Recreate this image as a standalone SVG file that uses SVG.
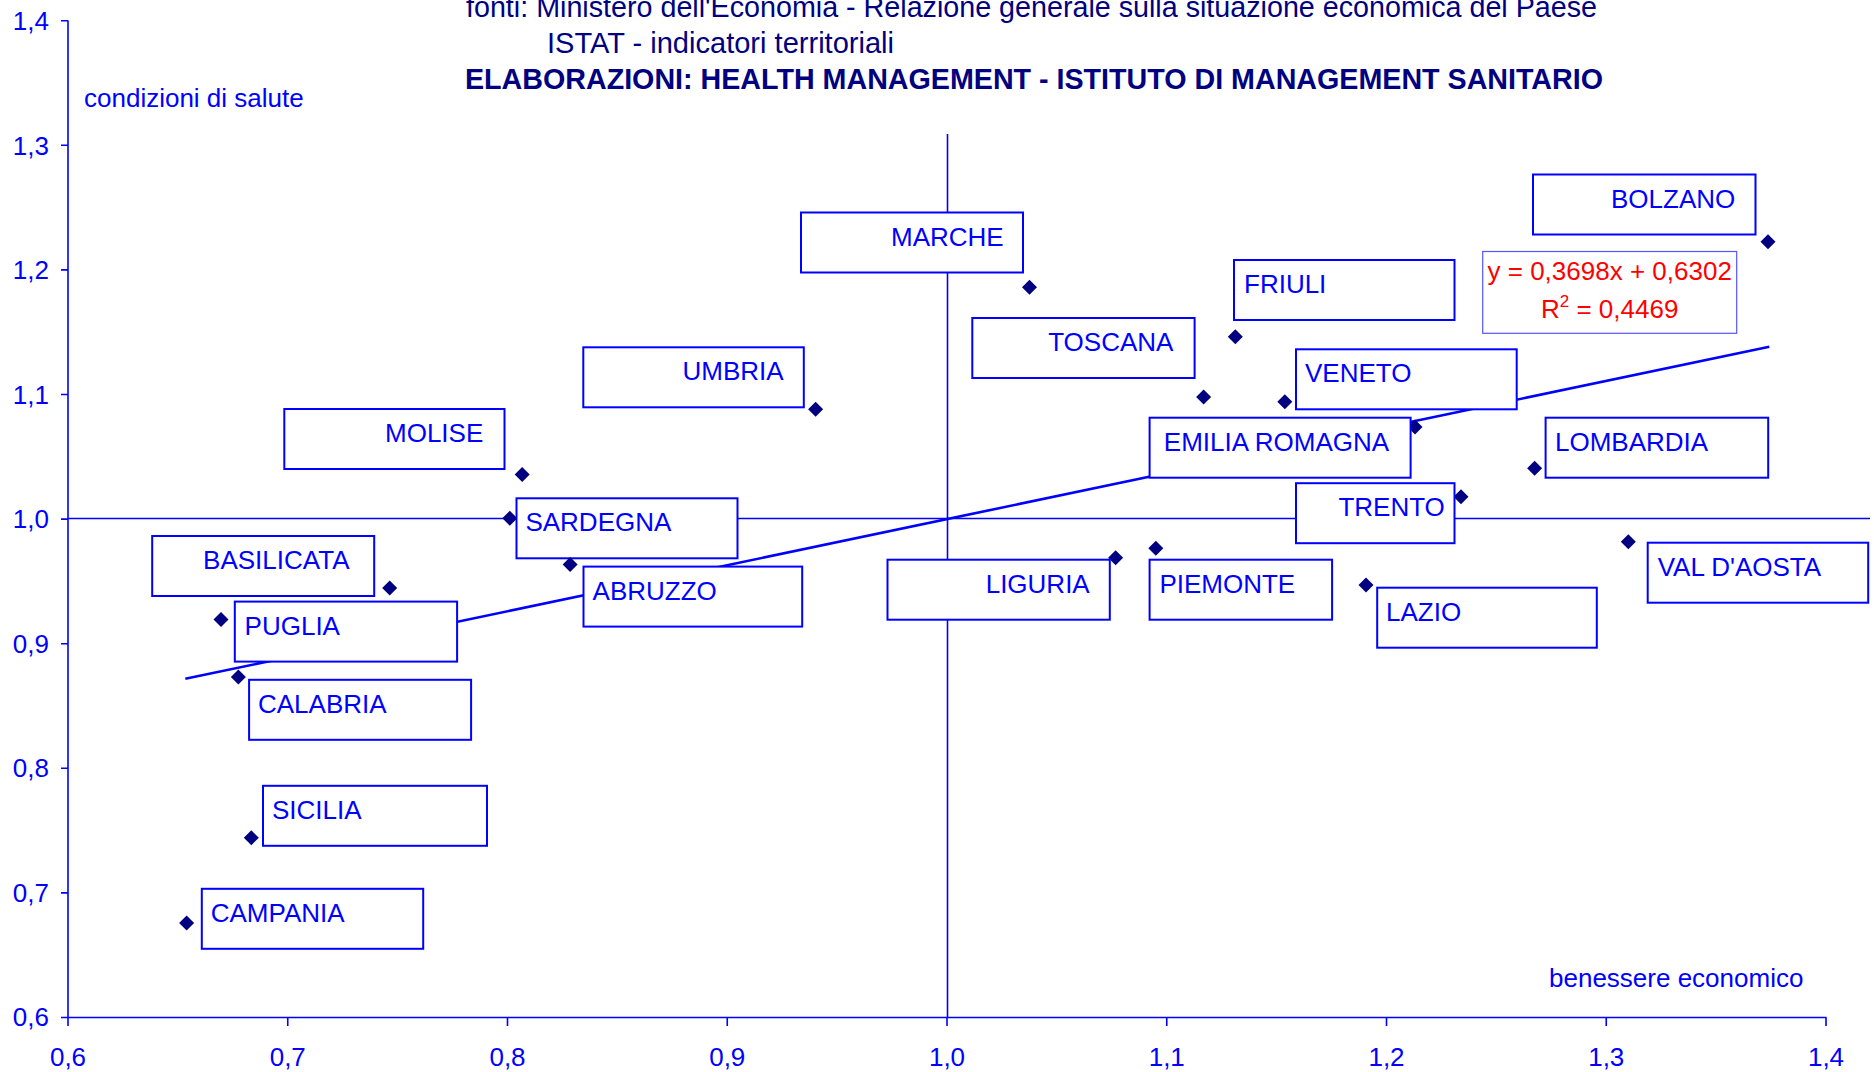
<svg xmlns="http://www.w3.org/2000/svg" width="1874" height="1072" viewBox="0 0 1874 1072">
<style>
text { font-family: "Liberation Sans", Arial, Helvetica, sans-serif; }
.lbl { font-size: 26px; fill: #0000FF; }
.box { fill: #FFFFFF; stroke: #0000FF; stroke-width: 2; }
.mk { fill: #000080; }
.ax { stroke: #0000FF; stroke-width: 1.6; fill: none; }
.tk { font-size: 26px; fill: #0000FF; }
.yt { text-anchor: end; }
.xt { text-anchor: middle; }
.ttl { font-size: 29px; fill: #000080; }
.trend { stroke: #0000FF; stroke-width: 2.6; fill: none; }
.eq { font-size: 26px; fill: #FF0000; text-anchor: middle; }
</style>
<defs>
<path id="dm" d="M0,-7.5 L7.5,0 L0,7.5 L-7.5,0 Z"/>
</defs>
<rect x="0" y="0" width="1874" height="1072" fill="#FFFFFF"/>

<g id="titles">
<text class="ttl" x="466" y="17" textLength="1131" lengthAdjust="spacingAndGlyphs">fonti: Ministero dell'Economia - Relazione generale sulla situazione economica del Paese</text>
<text class="ttl" x="547" y="53.3" textLength="347" lengthAdjust="spacingAndGlyphs">ISTAT - indicatori territoriali</text>
<text class="ttl" x="465" y="89.3" font-size="28.5" font-weight="bold" textLength="1138" lengthAdjust="spacingAndGlyphs">ELABORAZIONI: HEALTH MANAGEMENT - ISTITUTO DI MANAGEMENT SANITARIO</text>
</g>

<g id="axes">
<line class="ax" x1="68" y1="20.5" x2="68" y2="1026"/>
<line class="ax" x1="61" y1="1017.5" x2="1826.5" y2="1017.5"/>
<path class="ax" d="M61,20.7 H68 M61,145.3 H68 M61,269.9 H68 M61,394.5 H68 M61,519.1 H68 M61,643.7 H68 M61,768.3 H68 M61,892.9 H68"/>
<path class="ax" d="M287.75,1017.5 V1026 M507.5,1017.5 V1026 M727.25,1017.5 V1026 M947,1017.5 V1026 M1166.75,1017.5 V1026 M1386.5,1017.5 V1026 M1606.25,1017.5 V1026 M1826,1017.5 V1026"/>
<text class="tk yt" x="49" y="30">1,4</text>
<text class="tk yt" x="49" y="154.5">1,3</text>
<text class="tk yt" x="49" y="279">1,2</text>
<text class="tk yt" x="49" y="403.5">1,1</text>
<text class="tk yt" x="49" y="528">1,0</text>
<text class="tk yt" x="49" y="652.5">0,9</text>
<text class="tk yt" x="49" y="777">0,8</text>
<text class="tk yt" x="49" y="901.5">0,7</text>
<text class="tk yt" x="49" y="1026">0,6</text>
<text class="tk xt" x="68" y="1066">0,6</text>
<text class="tk xt" x="287.75" y="1066">0,7</text>
<text class="tk xt" x="507.5" y="1066">0,8</text>
<text class="tk xt" x="727.25" y="1066">0,9</text>
<text class="tk xt" x="947" y="1066">1,0</text>
<text class="tk xt" x="1166.75" y="1066">1,1</text>
<text class="tk xt" x="1386.5" y="1066">1,2</text>
<text class="tk xt" x="1606.25" y="1066">1,3</text>
<text class="tk xt" x="1826" y="1066">1,4</text>
<text class="lbl" x="84" y="107">condizioni di salute</text>
<text class="lbl" x="1549" y="987">benessere economico</text>
</g>

<g id="connectors">
<line class="ax" x1="947.5" y1="134" x2="947.5" y2="1017.5"/>
<line class="ax" x1="68" y1="518.5" x2="1870" y2="518.5"/>
<line class="trend" x1="185.3" y1="678.8" x2="1769.3" y2="346.7"/>
</g>

<g id="marche"><use href="#dm" class="mk" x="1029.5" y="287.3"/><rect class="box" x="801" y="212.5" width="222" height="60"/><text class="lbl" x="891" y="245.5">MARCHE</text></g>
<g id="bolzano"><use href="#dm" class="mk" x="1768" y="241.7"/><rect class="box" x="1533" y="174.5" width="222.5" height="60"/><text class="lbl" x="1611" y="207.5">BOLZANO</text></g>
<g id="friuli"><use href="#dm" class="mk" x="1235.3" y="336.7"/><rect class="box" x="1234" y="260" width="220.5" height="60"/><text class="lbl" x="1244" y="293">FRIULI</text></g>
<g id="toscana"><use href="#dm" class="mk" x="1203.6" y="397"/><rect class="box" x="972.3" y="318" width="222.3" height="60"/><text class="lbl" x="1048.2" y="351">TOSCANA</text></g>
<g id="umbria"><use href="#dm" class="mk" x="815.6" y="409.3"/><rect class="box" x="583.3" y="347.3" width="220.5" height="60"/><text class="lbl" x="682.5" y="380.3">UMBRIA</text></g>
<g id="veneto"><use href="#dm" class="mk" x="1284.8" y="401.7"/><rect class="box" x="1296" y="349.3" width="220.7" height="60"/><text class="lbl" x="1305" y="382.3">VENETO</text></g>
<g id="molise"><use href="#dm" class="mk" x="522.2" y="474.4"/><rect class="box" x="284.3" y="409" width="220.2" height="60"/><text class="lbl" x="385" y="442">MOLISE</text></g>
<g id="emilia-romagna"><use href="#dm" class="mk" x="1415" y="427"/><rect class="box" x="1149.6" y="417.7" width="261" height="60"/><text class="lbl" x="1163.8" y="450.7">EMILIA ROMAGNA</text></g>
<g id="lombardia"><use href="#dm" class="mk" x="1534.6" y="468.3"/><rect class="box" x="1545.6" y="417.7" width="222.6" height="60"/><text class="lbl" x="1555" y="450.7">LOMBARDIA</text></g>
<g id="sardegna"><use href="#dm" class="mk" x="509.8" y="518.2"/><rect class="box" x="516.5" y="498.3" width="221" height="60"/><text class="lbl" x="525.4" y="531.3">SARDEGNA</text></g>
<g id="trento"><use href="#dm" class="mk" x="1461" y="496.7"/><rect class="box" x="1296" y="483.2" width="158.5" height="60"/><text class="lbl" x="1338.4" y="516.2">TRENTO</text></g>
<g id="basilicata"><use href="#dm" class="mk" x="389.7" y="588.1"/><rect class="box" x="152.2" y="536" width="222" height="60"/><text class="lbl" x="203.1" y="569">BASILICATA</text></g>
<g id="val-d-aosta"><use href="#dm" class="mk" x="1628.3" y="541.7"/><rect class="box" x="1647.7" y="542.7" width="220.5" height="60"/><text class="lbl" x="1657.7" y="575.7">VAL D'AOSTA</text></g>
<g id="liguria"><use href="#dm" class="mk" x="1115.6" y="557.7"/><rect class="box" x="887.5" y="559.7" width="222.3" height="60"/><text class="lbl" x="985.7" y="592.7">LIGURIA</text></g>
<g id="piemonte"><use href="#dm" class="mk" x="1155.8" y="548.3"/><rect class="box" x="1149.6" y="559.7" width="182.5" height="60"/><text class="lbl" x="1159.4" y="592.7">PIEMONTE</text></g>
<g id="abruzzo"><use href="#dm" class="mk" x="570.1" y="564.4"/><rect class="box" x="583.5" y="566.6" width="218.7" height="60"/><text class="lbl" x="592.6" y="599.6">ABRUZZO</text></g>
<g id="lazio"><use href="#dm" class="mk" x="1366" y="585"/><rect class="box" x="1377.2" y="587.7" width="219.6" height="60"/><text class="lbl" x="1386" y="620.7">LAZIO</text></g>
<g id="puglia"><use href="#dm" class="mk" x="221" y="619.4"/><rect class="box" x="234.8" y="601.6" width="222.3" height="60"/><text class="lbl" x="244.6" y="634.6">PUGLIA</text></g>
<g id="calabria"><use href="#dm" class="mk" x="238.4" y="676.9"/><rect class="box" x="249.1" y="679.8" width="222" height="60"/><text class="lbl" x="258" y="712.8">CALABRIA</text></g>
<g id="sicilia"><use href="#dm" class="mk" x="251.3" y="837.8"/><rect class="box" x="263" y="785.8" width="224" height="60"/><text class="lbl" x="271.9" y="818.8">SICILIA</text></g>
<g id="campania"><use href="#dm" class="mk" x="186.6" y="923"/><rect class="box" x="201.8" y="888.8" width="221.4" height="60"/><text class="lbl" x="210.7" y="921.8">CAMPANIA</text></g>

<g id="equation">
<rect x="1482.7" y="251.5" width="254" height="81.8" fill="#FFFFFF" stroke="#5555FF" stroke-width="1.2"/>
<text class="eq" x="1609.7" y="280">y = 0,3698x + 0,6302</text>
<text class="eq" x="1609.7" y="318.3">R<tspan font-size="17" dy="-11">2</tspan><tspan dy="11"> = 0,4469</tspan></text>
</g>
</svg>
